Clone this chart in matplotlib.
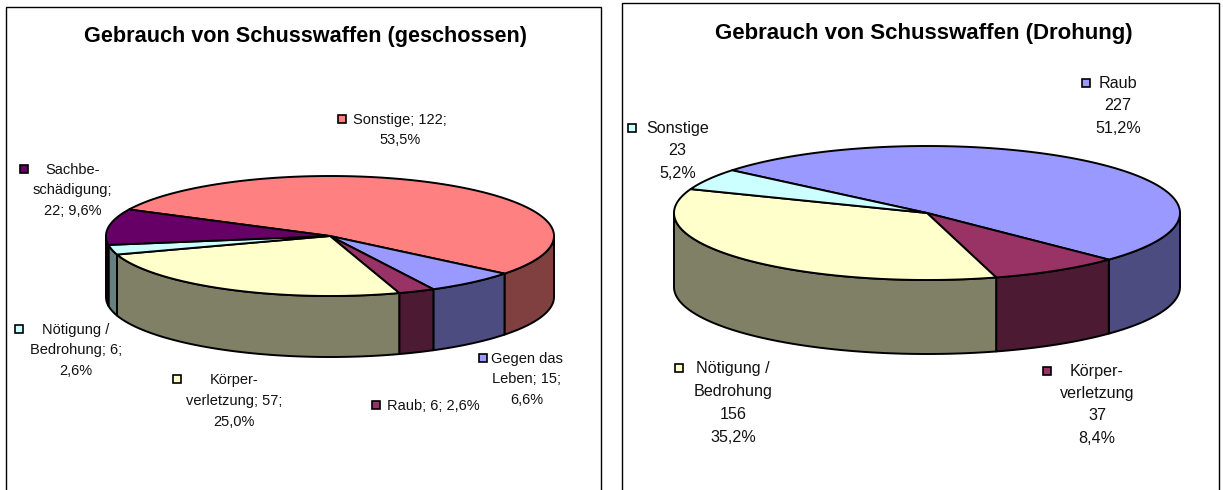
import numpy as np
import matplotlib
matplotlib.use("Agg")
import matplotlib.pyplot as plt
from matplotlib.patches import Polygon, Rectangle

# ---------------- data ----------------
left_title = "Gebrauch von Schusswaffen (geschossen)"
left_categories = ["Sonstige", "Gegen das\nLeben", "Raub", "Körper-\nverletzung",
                   "Nötigung /\nBedrohung", "Sachbe-\nschädigung"]
left_values = [122, 15, 6, 57, 6, 22]

right_title = "Gebrauch von Schusswaffen (Drohung)"
right_categories = ["Raub", "Körper-\nverletzung", "Nötigung /\nBedrohung", "Sonstige"]
right_values = [227, 37, 156, 23]

# ---------------- styles ----------------
left_top = ["#FF8080", "#9999FF", "#993366", "#FFFFCC", "#CCFFFF", "#660066"]
left_side = ["#804040", "#4C4C80", "#4C1A33", "#808066", "#668080", "#330033"]
right_top = ["#9999FF", "#993366", "#FFFFCC", "#CCFFFF"]
right_side = ["#4C4C80", "#4C1A33", "#808066", "#668080"]

FONT = "Liberation Sans"
W, H = 1223, 490
fig = plt.figure(figsize=(W / 100, H / 100), dpi=100)
ax = fig.add_axes([0, 0, 1, 1])
ax.set_xlim(0, W)
ax.set_ylim(H, 0)
ax.axis("off")

# panels
ax.add_patch(Rectangle((6, 7), 595, 500, fill=False, ec="black", lw=1.0))
ax.add_patch(Rectangle((622, 3), 597, 510, fill=False, ec="black", lw=1.0))


def pt(cx, cy, rx, ry, t):
    t = np.radians(t)
    return cx + rx * np.cos(t), cy - ry * np.sin(t)


def draw_pie3d(values, tops, sides, cx, cy, rx, ry, depth, start):
    total = float(sum(values))
    bounds = []
    a = start
    for v in values:
        b = a - 360.0 * v / total
        bounds.append((b, a))
        a = b
    # side walls (front half only)
    for (lo0, hi0), sc in zip(bounds, sides):
        for k in range(-2, 2):
            lo = max(lo0, -180 + 360 * k)
            hi = min(hi0, 0 + 360 * k)
            if hi > lo:
                ts = np.linspace(lo, hi, 120)
                xs, ys = pt(cx, cy, rx, ry, ts)
                poly = np.concatenate([
                    np.column_stack([xs, ys]),
                    np.column_stack([xs[::-1], ys[::-1] + depth])])
                ax.add_patch(Polygon(poly, closed=True, fc=sc, ec="black",
                                     lw=1.4, joinstyle="round", zorder=2))
    # top faces
    for (lo, hi), tc in zip(bounds, tops):
        ts = np.linspace(hi, lo, max(int((hi - lo) * 2), 4))
        xs, ys = pt(cx, cy, rx, ry, ts)
        poly = np.vstack([[cx, cy], np.column_stack([xs, ys])])
        ax.add_patch(Polygon(poly, closed=True, fc=tc, ec="black",
                             lw=1.4, joinstyle="round", zorder=3))


def fmt_pct(v, total):
    return f"{100.0 * v / total:.1f}".replace(".", ",") + "%"


def draw_label(text, color, cx, y0, step, kx, size):
    lines = text.split("\n")
    for i, line in enumerate(lines):
        ax.text(cx, y0 + i * step + 4.8, line, ha="center", va="baseline",
                fontsize=size, family=FONT, color="#111111", zorder=5)
    ax.add_patch(Rectangle((kx - 4, y0 - 4), 8, 8, fc=color, ec="black",
                           lw=1.2, zorder=5))


# ---------------- left chart ----------------
ax.text(305, 42, left_title, ha="center", va="baseline", fontsize=15.6,
        fontweight="bold", family=FONT)
draw_pie3d(left_values, left_top, left_side, 330, 236, 224, 60, 61, 153.8)

lt = sum(left_values)
left_seps = [("; ", ";\n"), ("; ", ";\n"), ("; ", "; "), ("; ", ";\n"),
             ("; ", ";\n"), (";\n", "; ")]
left_layout = [  # cx, first-line y, line step, key x
    (400, 119, 20, 342),
    (527, 358, 20.5, 483),
    (433.5, 405, 20, 376),
    (234, 379, 21, 177),
    (76, 329, 20.5, 19),
    (72.5, 169, 20.5, 23.5),
]
for cat, v, col, (s1, s2), (cx, y0, st, kx) in zip(left_categories, left_values,
                                                  left_top, left_seps, left_layout):
    txt = f"{cat}{s1}{v}{s2}{fmt_pct(v, lt)}"
    draw_label(txt, col, cx, y0, st, kx, 10.5)

# ---------------- right chart ----------------
ax.text(924, 39, right_title, ha="center", va="baseline", fontsize=16,
        fontweight="bold", family=FONT)
draw_pie3d(right_values, right_top, right_side, 927, 213, 253, 67, 74, 140.4)

rt = sum(right_values)
right_layout = [
    (1118, 83, 22.5, 1086),
    (1097, 371, 22.3, 1047),
    (733, 368, 23, 679),
    (677.5, 128, 22.5, 631.6),
]
for cat, v, col, (cx, y0, st, kx) in zip(right_categories, right_values,
                                         right_top, right_layout):
    txt = f"{cat}\n{v}\n{fmt_pct(v, rt)}"
    draw_label(txt, col, cx, y0, st, kx, 11.6)

fig.savefig("out.png", dpi=100, facecolor="white")
